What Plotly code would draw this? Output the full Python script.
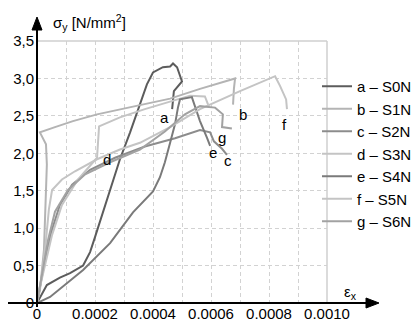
import plotly.graph_objects as go

# ---- data (strain in 1e-4 units, stress in N/mm2) ----
names = ["a – S0N", "b – S1N", "c – S2N", "d – S3N", "e – S4N", "f – S5N", "g – S6N"]
letters = ["a", "b", "c", "d", "e", "f", "g"]
colors = ["#5c5c5c", "#b4b4b4", "#8c8c8c", "#c4c4c4", "#7a7a7a", "#c4c4c4", "#a2a2a2"]

a_x = [0, 0.34, 0.79, 1.14, 1.59, 1.83, 2.0, 2.17, 2.52, 2.86, 3.21, 3.55, 3.79, 4.0, 4.34, 4.59, 4.69, 4.83, 5.0, 4.72, 4.66]
a_y = [0, 0.24, 0.34, 0.40, 0.50, 0.68, 0.88, 1.09, 1.49, 1.92, 2.28, 2.65, 2.92, 3.08, 3.15, 3.16, 3.20, 3.15, 2.96, 2.83, 2.59]

b_x = [0, 0.10, 0.24, 0.31, 0.34, 0.31, 0.10, 0.62, 1.24, 2.07, 3.45, 4.59, 5.62, 6.83, 6.79, 6.76]
b_y = [0, 0.17, 0.71, 1.38, 1.85, 2.12, 2.28, 2.35, 2.43, 2.52, 2.63, 2.73, 2.86, 3.00, 2.86, 2.65]

c_x = [0, 0.14, 0.31, 0.52, 0.79, 1.21, 1.83, 2.69, 3.72, 4.76, 5.62, 5.97, 6.10, 6.38, 6.55]
c_y = [0, 0.31, 0.64, 0.98, 1.31, 1.58, 1.78, 1.94, 2.09, 2.20, 2.31, 2.28, 2.16, 2.06, 1.98]

d_x = [0, 0.10, 0.28, 0.52, 0.86, 1.41, 2.07, 2.14, 2.86, 3.72, 4.76, 5.28, 5.79, 5.90]
d_y = [0, 0.21, 0.51, 0.91, 1.31, 1.65, 1.94, 2.36, 2.48, 2.59, 2.71, 2.77, 2.76, 2.65]

e_x = [0, 0.45, 1.59, 2.52, 3.31, 4.0, 4.24, 4.41, 4.59, 4.76, 4.86, 4.93, 5.34, 5.62, 5.86, 5.97]
e_y = [0, 0.08, 0.44, 0.80, 1.21, 1.49, 1.68, 1.88, 2.14, 2.39, 2.61, 2.72, 2.75, 2.43, 2.21, 2.10]

f_x = [0, 0.17, 0.31, 0.41, 0.52, 0.86, 1.31, 2.07, 2.86, 3.55, 4.59, 5.62, 7.0, 8.21, 8.38, 8.59, 8.62]
f_y = [0, 0.38, 0.84, 1.25, 1.51, 1.65, 1.76, 1.92, 2.05, 2.14, 2.35, 2.59, 2.83, 3.03, 2.90, 2.72, 2.59]

g_x = [0, 0.07, 0.21, 0.38, 0.62, 1.07, 1.66, 2.52, 3.55, 4.41, 5.10, 5.62, 6.14, 6.41, 6.38, 6.72]
g_y = [0, 0.15, 0.44, 0.84, 1.22, 1.51, 1.72, 1.88, 2.05, 2.29, 2.52, 2.63, 2.61, 2.52, 2.35, 2.33]

# label positions for curve letters
lab_x = [4.41, 7.10, 6.59, 2.41, 6.07, 8.55, 6.38]
lab_y = [2.48, 2.52, 1.90, 1.92, 2.01, 2.39, 2.21]

x_ticks = [0, 0.0001, 0.0002, 0.0003, 0.0004, 0.0005, 0.0006, 0.0007, 0.0008, 0.0009, 0.0010]
x_labels = ["0", "", "0.0002", "", "0.0004", "", "0.0006", "", "0.0008", "", "0.0010"]
y_ticks = [0, 0.5, 1.0, 1.5, 2.0, 2.5, 3.0, 3.5]
y_labels = ["0", "0,5", "1,0", "1,5", "2,0", "2,5", "3,0", "3,5"]

series_x = [a_x, b_x, c_x, d_x, e_x, f_x, g_x]
series_y = [a_y, b_y, c_y, d_y, e_y, f_y, g_y]

FONT = "Liberation Sans, Arial, sans-serif"
W, H = 417, 321
L, R, T, B = 37, 90, 41, 18
pw, ph = W - L - R, H - T - B

def px(xs):  # screen x -> paper
    return (xs - L) / pw

def py(ys):  # screen y -> paper
    return (H - B - ys) / ph

fig = go.Figure()
for i in range(7):
    fig.add_trace(go.Scatter(
        x=[v * 1e-4 for v in series_x[i]], y=series_y[i], mode="lines",
        name=names[i], line=dict(color=colors[i], width=2), showlegend=True))

for i in range(7):
    fig.add_annotation(x=lab_x[i] * 1e-4, y=lab_y[i], text=letters[i], showarrow=False,
                       font=dict(size=15, color="black", family=FONT),
                       xanchor="center", yanchor="middle")

grid = dict(gridcolor="#d2d2d2", gridwidth=1, griddash="4px,3px")
fig.update_xaxes(range=[0, 0.001], tickvals=x_ticks, ticktext=x_labels, showline=False,
                 zeroline=False, ticks="", automargin=False,
                 tickfont=dict(size=15, family=FONT, color="black"),
                 showgrid=True, **grid)
fig.update_yaxes(range=[0, 3.5], tickvals=y_ticks, ticktext=y_labels, showline=False,
                 zeroline=False, ticks="", automargin=False, ticklabelstandoff=2,
                 tickfont=dict(size=15, family=FONT, color="black"),
                 showgrid=True, **grid)

shapes = []
shapes.append(dict(type="line", xref="paper", yref="paper", x0=0, x1=1, y0=1, y1=1,
                   line=dict(color="#cfcfcf", width=1.5)))
shapes.append(dict(type="line", xref="paper", yref="paper", x0=1, x1=1, y0=0, y1=1,
                   line=dict(color="#cfcfcf", width=1.5)))
shapes.append(dict(type="line", xref="paper", yref="paper", x0=px(8), x1=px(368), y0=0, y1=0,
                   line=dict(color="black", width=2)))
shapes.append(dict(type="path", xref="paper", yref="paper",
                   path=f"M {px(366)} {py(298)} L {px(379)} {py(303)} L {px(366)} {py(308)} Z",
                   fillcolor="black", line=dict(color="black", width=1)))
shapes.append(dict(type="line", xref="paper", yref="paper", x0=0, x1=0, y0=py(307), y1=py(28),
                   line=dict(color="black", width=2)))
shapes.append(dict(type="path", xref="paper", yref="paper",
                   path=f"M {px(32)} {py(30)} L {px(37)} {py(17)} L {px(42)} {py(30)} Z",
                   fillcolor="black", line=dict(color="black", width=1)))

fig.add_annotation(xref="paper", yref="paper", x=px(51), y=py(22), xanchor="left", yanchor="middle",
                   text="σ<sub>y</sub> [N/mm<sup>2</sup>]", showarrow=False,
                   font=dict(size=15, family=FONT, color="black"))
fig.add_annotation(xref="paper", yref="paper", x=px(342), y=py(292), xanchor="left", yanchor="middle",
                   text="ε<sub>x</sub>", showarrow=False,
                   font=dict(size=15, family=FONT, color="black"))

fig.update_layout(
    width=W, height=H, margin=dict(l=L, r=R, t=T, b=B, autoexpand=False),
    paper_bgcolor="white", plot_bgcolor="white", shapes=shapes,
    font=dict(family=FONT, size=15, color="black"),
    legend=dict(x=px(317), xanchor="left", y=py(70), yanchor="top",
                bgcolor="rgba(0,0,0,0)", font=dict(size=15, family=FONT, color="black"),
                itemwidth=30),
)

fig.write_html("out.html", config={"displayModeBar": False},
               post_script="document.body.style.margin='0px';document.body.style.overflow='hidden';")
